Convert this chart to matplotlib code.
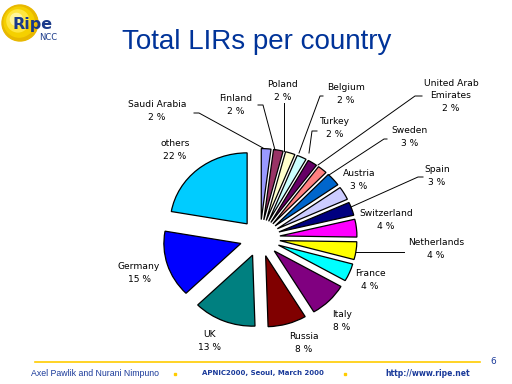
import matplotlib
matplotlib.use("Agg")
import matplotlib.pyplot as plt
from matplotlib.patches import Circle, Rectangle

# datos del grafico
paises = ["Saudi Arabia", "Finland", "Poland", "Belgium", "Turkey",
          "United Arab Emirates", "Sweden", "Austria", "Spain", "Switzerland",
          "Netherlands", "France", "Italy", "Russia", "UK", "Germany", "others"]
porcentajes = [2, 2, 2, 2, 2, 2, 3, 3, 3, 4, 4, 4, 8, 8, 13, 15, 22]
colores = ["#9999FF", "#993366", "#FFFFCC", "#CCFFFF", "#660066", "#FF8080",
           "#0066CC", "#CCCCFF", "#000080", "#FF00FF", "#FFFF00", "#00FFFF",
           "#800080", "#800000", "#008080", "#0000FF", "#00CCFF"]

# posiciones de las etiquetas (pixeles, origen arriba a la izquierda)
pos_etiquetas = [(157, 111), (236, 105), (283, 91), (346, 94), (335, 128),
                 (451, 96), (410, 137), (359, 180), (437, 176), (386, 220),
                 (436, 249), (370, 280), (342, 321), (304, 343), (210, 341),
                 (139, 273), (175, 150)]

# lineas guia (pixeles)
lineas = {
    "Saudi Arabia": [(194, 113), (199, 113), (263, 148)],
    "Finland": [(258, 105), (263, 105), (275, 150)],
    "Poland": [(284, 103), (284, 151)],
    "Belgium": [(323, 96), (320, 96), (299, 153)],
    "Turkey": [(317, 131), (312, 131), (309, 153)],
    "United Arab Emirates": [(422, 96), (415, 96), (318, 165)],
    "Sweden": [(387, 139), (384, 139), (329, 175)],
    "Spain": [(423, 177), (418, 177), (351, 207)],
    "Netherlands": [(404, 252), (356, 252)],
}

fig = plt.figure(figsize=(5.12, 3.84), dpi=100)
fig.patch.set_facecolor("white")

# ejes de la torta (un poco mas ancha que alta, como en la diapositiva)
cx, cy = 260, 238
sx, sy = 77, 71
lim = 1.6
w, h = 2 * lim * sx, 2 * lim * sy
ax = fig.add_axes([(cx - w / 2) / 512, (384 - cy - h / 2) / 384, w / 512, h / 384])
ax.pie(porcentajes, colors=colores, startangle=90, counterclock=False,
       explode=[0.26] * len(porcentajes),
       wedgeprops=dict(edgecolor="black", linewidth=0.9))
ax.set_aspect("auto")
ax.set_xlim(-lim, lim)
ax.set_ylim(-lim, lim)
ax.axis("off")

# ejes superpuestos en pixeles para textos y lineas
ov = fig.add_axes([0, 0, 1, 1], facecolor="none")
ov.set_xlim(0, 512)
ov.set_ylim(384, 0)
ov.axis("off")

for nombre, val, (x, y) in zip(paises, porcentajes, pos_etiquetas):
    texto = nombre.replace("United Arab Emirates", "United Arab\nEmirates")
    ov.text(x, y, f"{texto}\n{val} %", ha="center", va="center", fontsize=6.6,
            family="DejaVu Sans", linespacing=1.5, color="black")

for nombre, pts in lineas.items():
    xs = [p[0] for p in pts]
    ys = [p[1] for p in pts]
    ov.plot(xs, ys, color="black", linewidth=0.7)

# titulo
ov.text(257, 42, "Total LIRs per country", ha="center", va="center",
        fontsize=20, family="Liberation Sans", color="#003399")

# logo
for r, c in [(18, "#E8B800"), (15, "#F5D000"), (11, "#FFE640"), (6, "#FFF59A")]:
    ov.add_patch(Circle((20 - (18 - r) * 0.3, 23 - (18 - r) * 0.3), r, color=c, zorder=3))
ov.text(33, 24, "Ripe", ha="center", va="center", fontsize=11.5, fontweight="bold",
        family="DejaVu Sans", color="#1a3a8a", zorder=4)
ov.text(48, 37, "NCC", ha="center", va="center", fontsize=6,
        family="DejaVu Sans", color="#1a3a8a", zorder=4)

# pie de pagina
ov.plot([35, 480], [362, 362], color="#FFCC00", linewidth=1.2)
ov.text(493, 361, "6", ha="center", va="center", fontsize=6.5, color="#1a3a9a")
ov.text(31, 373, "Axel Pawlik and Nurani Nimpuno", ha="left", va="center",
        fontsize=6.3, family="Liberation Sans", color="#1a3a9a")
ov.text(263, 373, "APNIC2000, Seoul, March 2000", ha="center", va="center",
        fontsize=5, fontweight="bold", family="DejaVu Sans", color="#1a3a9a")
ov.text(428, 373, "http://www.ripe.net", ha="center", va="center",
        fontsize=5.5, fontweight="bold", family="DejaVu Sans", color="#1a3a9a")
for xq in (175, 345):
    ov.add_patch(Rectangle((xq - 1, 373), 2, 2, color="#FFCC00"))

fig.savefig("out.png", dpi=100)
